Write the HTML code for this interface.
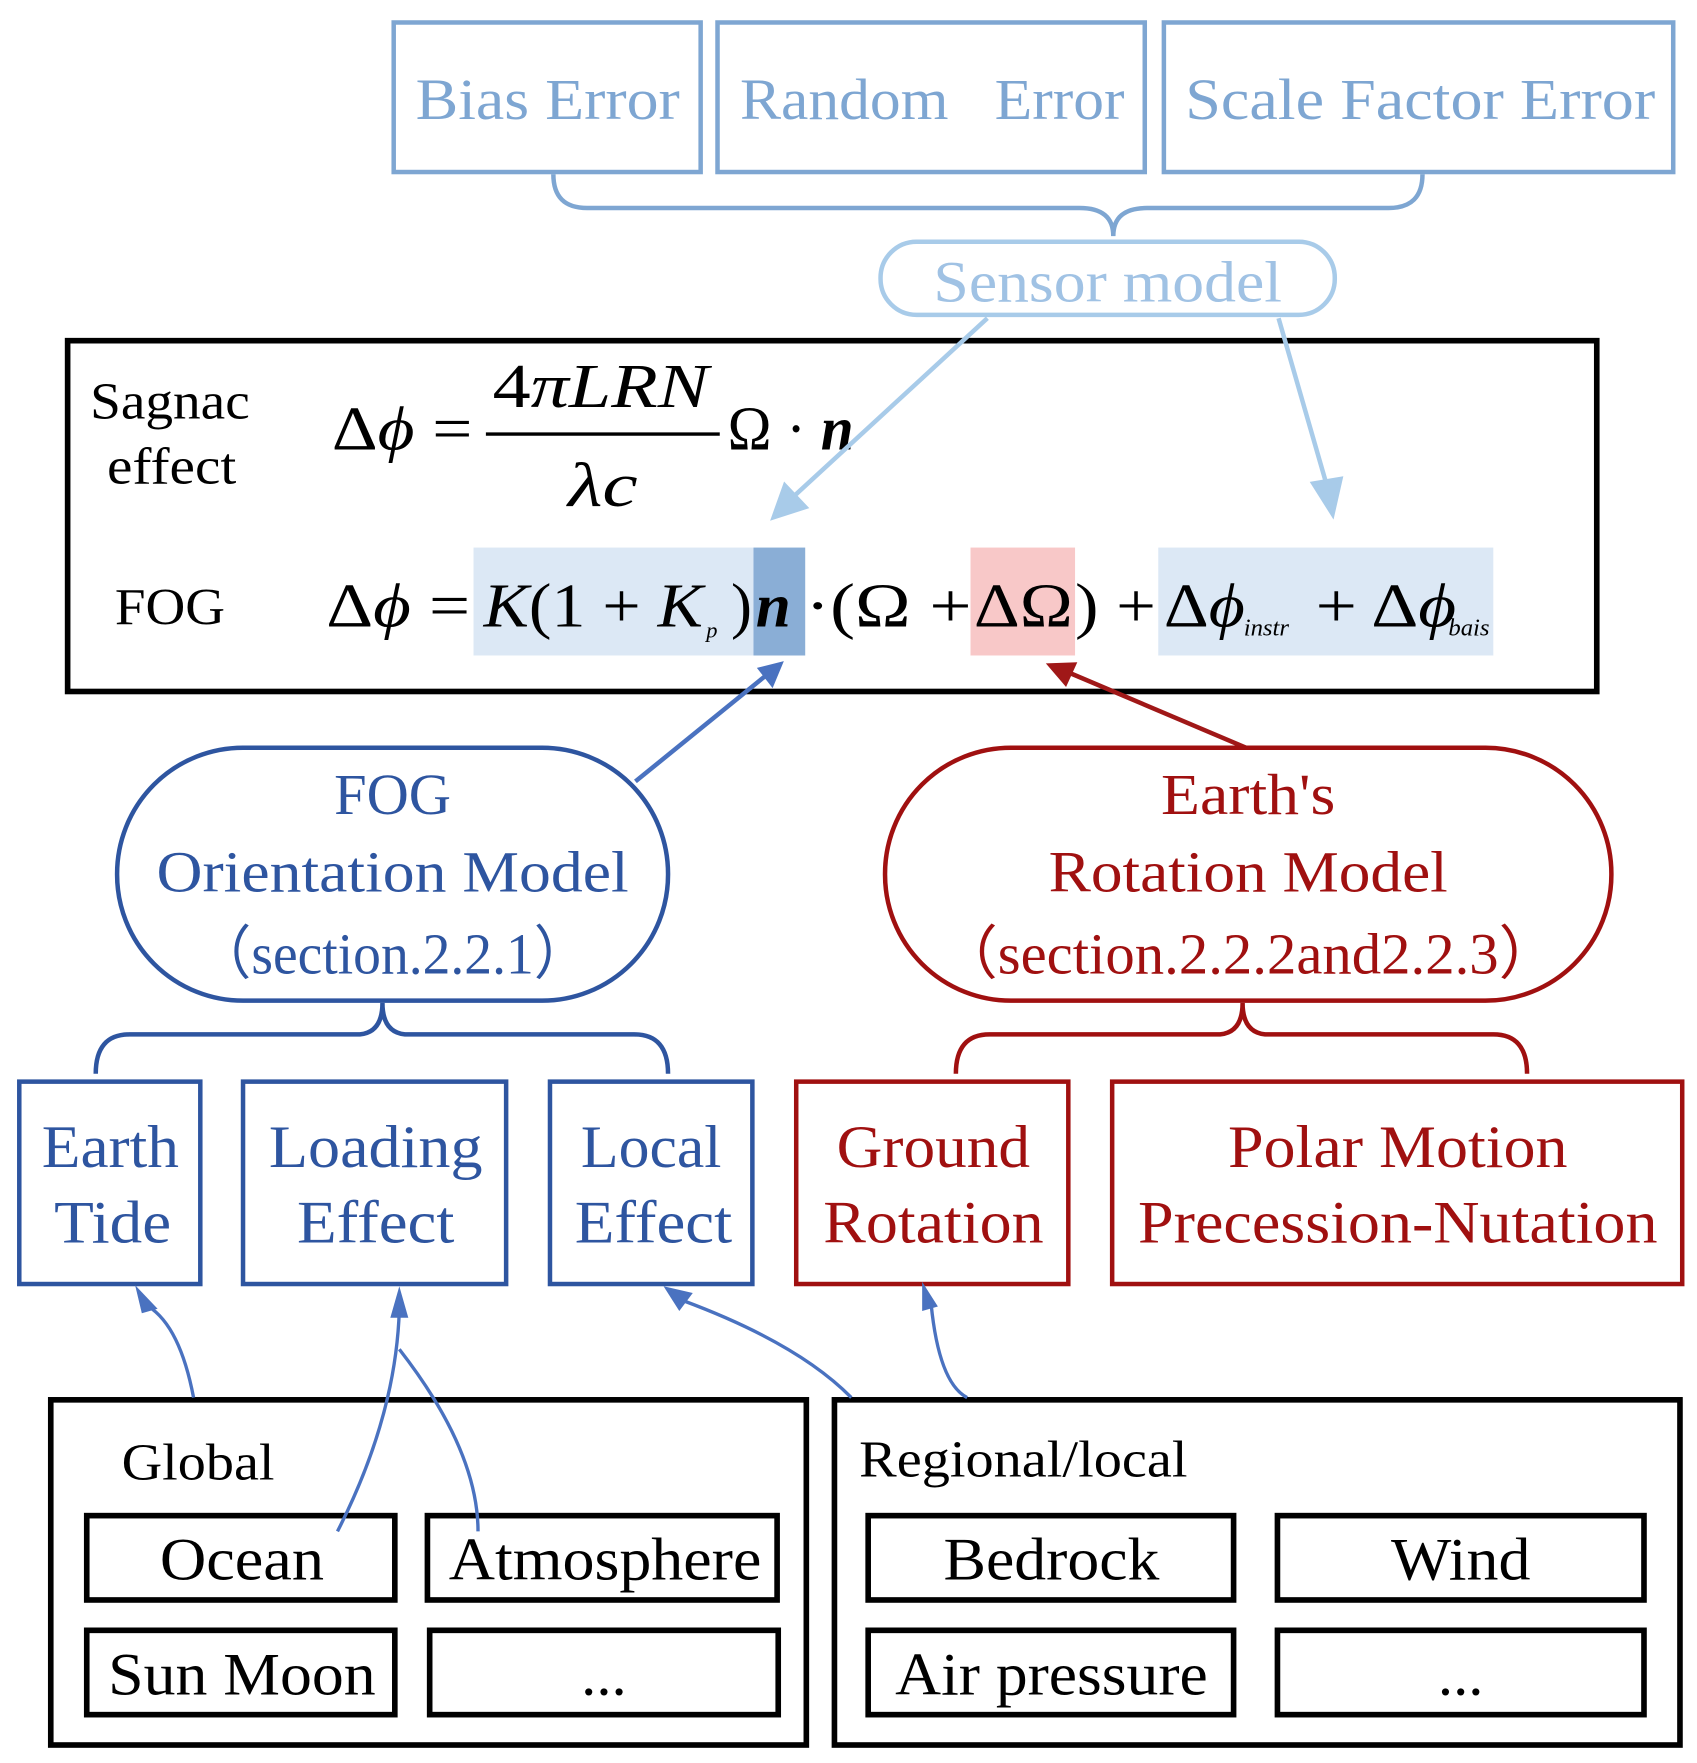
<!DOCTYPE html>
<html><head><meta charset="utf-8"><style>
html,body{margin:0;padding:0;background:#fff}
svg{display:block}
text{font-family:"Liberation Serif",serif}
</style></head><body>
<svg width="1697" height="1763" viewBox="0 0 1509 1568" xmlns="http://www.w3.org/2000/svg">
<!-- top boxes -->
<g fill="none" stroke="#7ea6d2" stroke-width="4">
<rect x="350" y="20" width="273" height="133"/>
<rect x="638" y="20" width="380" height="133"/>
<rect x="1035" y="20" width="453" height="133"/>
<path d="M492,155 Q492,185 522,185 L960,185 Q990,185 990,210 Q990,185 1020,185 L1235,185 Q1265,185 1265,155"/>
</g>
<g fill="#7ea6d2" font-size="52" text-anchor="middle">
<text x="487" y="106" textLength="235" lengthAdjust="spacingAndGlyphs">Bias Error</text>
<text x="829" y="106" textLength="342" lengthAdjust="spacingAndGlyphs">Random&#160;&#160; Error</text>
<text x="1263" y="106" textLength="418" lengthAdjust="spacingAndGlyphs">Scale Factor Error</text>
</g>
<rect x="783" y="215" width="404" height="65" rx="32" fill="none" stroke="#a8cbe9" stroke-width="4"/>
<text x="985" y="268" font-size="52" fill="#a0c2e4" text-anchor="middle" textLength="310" lengthAdjust="spacingAndGlyphs">Sensor model</text>
<!-- main box -->
<rect x="60" y="303" width="1360" height="312" fill="none" stroke="#000" stroke-width="5"/>
<rect x="421" y="487" width="249" height="96" fill="#dce8f5"/>
<rect x="670" y="487" width="46" height="96" fill="#8aaed6"/>
<rect x="863" y="487" width="93" height="96" fill="#f8c8c8"/>
<rect x="1030" y="487" width="298" height="96" fill="#dce8f5"/>
<g font-size="46" fill="#000">
<text x="80" y="372" textLength="142" lengthAdjust="spacingAndGlyphs">Sagnac</text>
<text x="95" y="430" textLength="115" lengthAdjust="spacingAndGlyphs">effect</text>
<text x="102" y="555" textLength="98" lengthAdjust="spacingAndGlyphs">FOG</text>
</g>
<g font-size="56" fill="#000">
<text x="295" y="400" textLength="125" lengthAdjust="spacingAndGlyphs">Δ<tspan font-style="italic">ϕ</tspan> =</text>
<text x="438" y="362" font-style="italic" textLength="192" lengthAdjust="spacingAndGlyphs"><tspan font-style="normal">4</tspan>πLRN</text>
<line x1="432" y1="386" x2="640" y2="386" stroke="#000" stroke-width="3"/>
<text x="505" y="450" font-style="italic" textLength="62" lengthAdjust="spacingAndGlyphs">λc</text>
<text x="647" y="400" textLength="112" lengthAdjust="spacingAndGlyphs">Ω · <tspan font-style="italic" font-weight="bold">n</tspan></text>
<text x="290" y="557" textLength="128" lengthAdjust="spacingAndGlyphs">Δ<tspan font-style="italic">ϕ</tspan> =</text>
<text x="430" y="557" textLength="195" lengthAdjust="spacingAndGlyphs"><tspan font-style="italic">K</tspan>(1 + <tspan font-style="italic">K</tspan></text>
<text x="628" y="567" font-size="20" font-style="italic">p</text>
<text x="650" y="557">)</text>
<text x="672" y="557" font-style="italic" font-weight="bold">n</text>
<text x="716" y="557" textLength="148" lengthAdjust="spacingAndGlyphs">·(Ω +</text>
<text x="866" y="557" textLength="88" lengthAdjust="spacingAndGlyphs">ΔΩ</text>
<text x="956" y="557" textLength="72" lengthAdjust="spacingAndGlyphs">) +</text>
<text x="1035" y="557" textLength="72" lengthAdjust="spacingAndGlyphs">Δ<tspan font-style="italic">ϕ</tspan></text>
<text x="1106" y="565" font-size="22" font-style="italic">instr</text>
<text x="1170" y="557" textLength="125" lengthAdjust="spacingAndGlyphs">+ Δ<tspan font-style="italic">ϕ</tspan></text>
<text x="1288" y="565" font-size="22" font-style="italic">bais</text>
</g>
<!-- sensor arrows -->
<g stroke="#a8cbe9" stroke-width="4" fill="#a8cbe9">
<line x1="878" y1="283" x2="702" y2="445"/>
<path d="M688,460 L698,432 L716,451 z"/>
<line x1="1137" y1="283" x2="1180" y2="432"/>
<path d="M1185,457 L1168,430 L1192,426 z"/>
</g>
<line x1="565" y1="695" x2="682" y2="600" stroke="#4a72c0" stroke-width="4"/>
<path d="M697,588 L687,612 L673,594 z" fill="#4a72c0"/>
<line x1="1108" y1="665" x2="950" y2="598" stroke="#a01818" stroke-width="4"/>
<path d="M930,590 L958,589 L948,611 z" fill="#a01818"/>
<!-- models -->
<rect x="104" y="665" width="490" height="225" rx="112" fill="none" stroke="#2e55a0" stroke-width="4"/>
<g fill="#2e55a0" font-size="52" text-anchor="middle">
<text x="349" y="724">FOG</text>
<text x="349" y="793" textLength="420" lengthAdjust="spacingAndGlyphs">Orientation Model</text>
<text x="349" y="866" textLength="350" lengthAdjust="spacingAndGlyphs">（section.2.2.1）</text>
</g>
<rect x="787" y="665" width="646" height="225" rx="112" fill="none" stroke="#a01010" stroke-width="4"/>
<g fill="#a01010" font-size="52" text-anchor="middle">
<text x="1110" y="724" textLength="155" lengthAdjust="spacingAndGlyphs">Earth's</text>
<text x="1110" y="793" textLength="355" lengthAdjust="spacingAndGlyphs">Rotation Model</text>
<text x="1110" y="866" textLength="550" lengthAdjust="spacingAndGlyphs">（section.2.2.2and2.2.3）</text>
</g>
<path d="M85,955 Q85,920 115,920 L320,920 Q340,918 340,892 Q340,918 360,920 L564,920 Q594,920 594,955" fill="none" stroke="#2e55a0" stroke-width="4"/>
<path d="M850,955 Q850,920 880,920 L1085,920 Q1105,918 1105,892 Q1105,918 1125,920 L1328,920 Q1358,920 1358,955" fill="none" stroke="#a01010" stroke-width="4"/>
<g fill="none" stroke="#2e55a0" stroke-width="4">
<rect x="17" y="962" width="161" height="180"/>
<rect x="216" y="962" width="234" height="180"/>
<rect x="489" y="962" width="180" height="180"/>
</g>
<g fill="none" stroke="#a01010" stroke-width="4">
<rect x="708" y="962" width="242" height="180"/>
<rect x="989" y="962" width="507" height="180"/>
</g>
<g fill="#2e55a0" font-size="54" text-anchor="middle">
<text x="98" y="1038" textLength="122" lengthAdjust="spacingAndGlyphs">Earth</text>
<text x="100" y="1105" textLength="104" lengthAdjust="spacingAndGlyphs">Tide</text>
<text x="334" y="1038" textLength="190" lengthAdjust="spacingAndGlyphs">Loading</text>
<text x="334" y="1105" textLength="140" lengthAdjust="spacingAndGlyphs">Effect</text>
<text x="579" y="1038" textLength="125" lengthAdjust="spacingAndGlyphs">Local</text>
<text x="581" y="1105" textLength="140" lengthAdjust="spacingAndGlyphs">Effect</text>
</g>
<g fill="#a01010" font-size="54" text-anchor="middle">
<text x="830" y="1038" textLength="172" lengthAdjust="spacingAndGlyphs">Ground</text>
<text x="830" y="1105" textLength="196" lengthAdjust="spacingAndGlyphs">Rotation</text>
<text x="1243" y="1038" textLength="302" lengthAdjust="spacingAndGlyphs">Polar Motion</text>
<text x="1243" y="1105" textLength="462" lengthAdjust="spacingAndGlyphs">Precession-Nutation</text>
</g>
<g fill="none" stroke="#000" stroke-width="5">
<rect x="45" y="1245" width="672" height="307"/>
<rect x="742" y="1245" width="752" height="307"/>
<rect x="77" y="1348" width="274" height="75"/>
<rect x="380" y="1348" width="311" height="75"/>
<rect x="77" y="1450" width="274" height="75"/>
<rect x="382" y="1450" width="310" height="75"/>
<rect x="772" y="1348" width="325" height="75"/>
<rect x="1136" y="1348" width="326" height="75"/>
<rect x="772" y="1450" width="325" height="75"/>
<rect x="1136" y="1450" width="326" height="75"/>
</g>
<g fill="#000" font-size="46">
<text x="108" y="1316" textLength="136" lengthAdjust="spacingAndGlyphs">Global</text>
<text x="764" y="1313" textLength="292" lengthAdjust="spacingAndGlyphs">Regional/local</text>
</g>
<g fill="#000" font-size="54" text-anchor="middle">
<text x="215" y="1405" textLength="146" lengthAdjust="spacingAndGlyphs">Ocean</text>
<text x="538" y="1405" textLength="278" lengthAdjust="spacingAndGlyphs">Atmosphere</text>
<text x="215" y="1507" textLength="238" lengthAdjust="spacingAndGlyphs">Sun Moon</text>
<text x="537" y="1507">...</text>
<text x="935" y="1405" textLength="192" lengthAdjust="spacingAndGlyphs">Bedrock</text>
<text x="1299" y="1405" textLength="124" lengthAdjust="spacingAndGlyphs">Wind</text>
<text x="935" y="1507" textLength="278" lengthAdjust="spacingAndGlyphs">Air pressure</text>
<text x="1299" y="1507">...</text>
</g>
<g fill="none" stroke="#4a72c0" stroke-width="3">
<path d="M172,1243 Q160,1180 132,1162"/>
<path d="M300,1362 Q352,1260 355,1165"/>
<path d="M425,1362 Q425,1290 355,1200"/>
<path d="M757,1243 Q710,1195 608,1157"/>
<path d="M860,1243 Q835,1230 828,1160"/>
</g>
<g fill="#4a72c0">
<path d="M120,1143 L140,1164 L126,1168 z"/>
<path d="M355,1144 L363,1172 L347,1172 z"/>
<path d="M590,1144 L616,1150 L604,1166 z"/>
<path d="M820,1140 L834,1162 L820,1166 z"/>
</g>
</svg>
</body></html>
